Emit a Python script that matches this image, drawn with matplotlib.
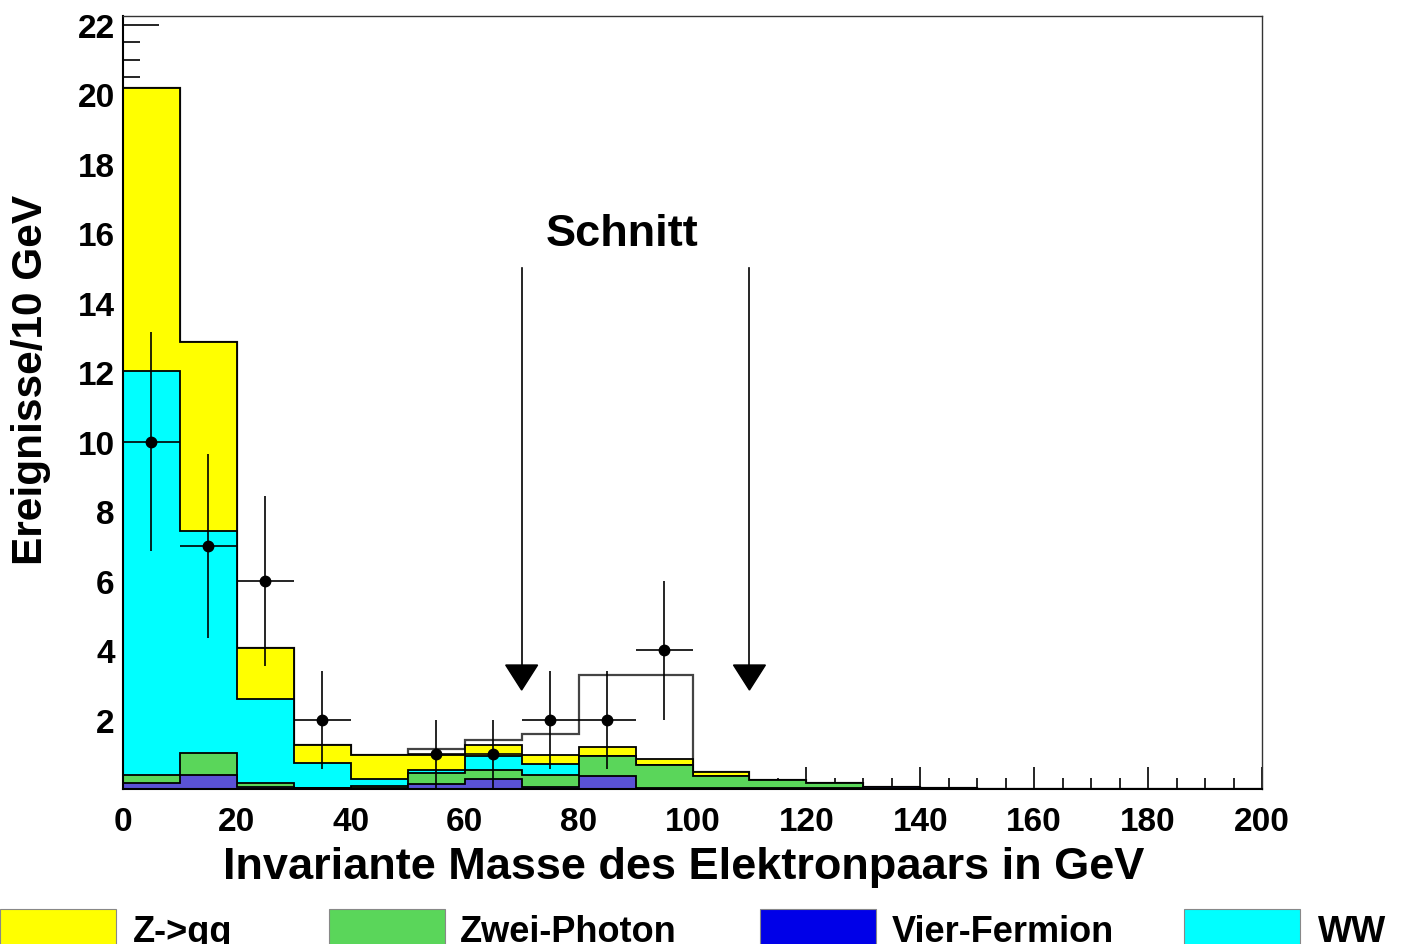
import numpy as np
import matplotlib
matplotlib.use("Agg")
import matplotlib.pyplot as plt
from matplotlib.patches import Rectangle

plt.rcParams['font.family'] = ['Liberation Sans', 'DejaVu Sans']
plt.rcParams['font.weight'] = 'bold'

# ---- data ----
bin_edges = list(range(0, 210, 10))
vier_fermion = [0.18, 0.41, 0.05, 0.02, 0.04, 0.14, 0.28, 0.07, 0.36, 0.04,
                0.03, 0.03, 0.02, 0.05, 0.02, 0.0, 0.0, 0.0, 0.0, 0.0]
zwei_photon = [0.21, 0.64, 0.12, 0.02, 0.05, 0.33, 0.27, 0.33, 0.59, 0.64,
               0.34, 0.23, 0.14, 0.02, 0.0, 0.0, 0.0, 0.0, 0.0, 0.0]
ww = [11.66, 6.38, 2.41, 0.70, 0.19, 0.08, 0.40, 0.31, 0.0, 0.0,
      0.0, 0.0, 0.0, 0.0, 0.0, 0.0, 0.0, 0.0, 0.0, 0.0]
z_qq = [8.15, 5.44, 1.49, 0.54, 0.71, 0.43, 0.31, 0.27, 0.27, 0.18,
        0.11, 0.0, 0.0, 0.0, 0.0, 0.0, 0.0, 0.0, 0.0, 0.0]
signal = [0.0, 0.0, 0.0, 0.0, 0.0, 0.16, 0.15, 0.60, 2.07, 2.43,
          0.0, 0.0, 0.0, 0.0, 0.0, 0.0, 0.0, 0.0, 0.0, 0.0]

data_x = [5, 15, 25, 35, 55, 65, 75, 85, 95]
data_y = [10, 7, 6, 2, 1, 1, 2, 2, 4]
data_err = [3.16, 2.65, 2.45, 1.41, 1.0, 1.0, 1.41, 1.41, 2.0]

cuts = [70, 110]
cut_label = "Schnitt"

legend_labels = ["Z->qq", "Zwei-Photon", "Vier-Fermion", "WW"]
x_ticks = list(range(0, 201, 20))
y_ticks = list(range(2, 23, 2))

# ---- colours ----
c_yellow = '#ffff00'
c_green = '#5ad65a'
c_blue_plot = '#5a52d6'
c_blue_leg = '#0000e8'
c_cyan = '#00ffff'

W, H = 1401, 945
fig = plt.figure(figsize=(W / 100, H / 100), dpi=100)
ax = fig.add_axes([123 / W, 1 - 790 / H, (1262 - 123) / W, (790 - 17) / H])

edges = np.array(bin_edges, dtype=float)
v = np.array(vier_fermion)
z2 = np.array(zwei_photon)
w = np.array(ww)
zq = np.array(z_qq)
s = np.array(signal)

lvl_blue = v
lvl_green = v + z2
lvl_cyan = lvl_green + w
lvl_yellow = lvl_cyan + zq
lvl_total = lvl_yellow + s

# outline (total incl. signal)
ax.stairs(lvl_total, edges, baseline=0, fill=False, color='#444444', lw=1.6, zorder=1.5)

for lvl, col in [(lvl_yellow, c_yellow), (lvl_cyan, c_cyan),
                 (lvl_green, c_green), (lvl_blue, c_blue_plot)]:
    ax.stairs(lvl, edges, baseline=0, fill=True, facecolor=col,
              edgecolor='black', lw=1.3, zorder=2)

# data points
ax.errorbar(data_x, data_y, xerr=5, yerr=data_err, fmt='o', color='black',
            ms=7.5, elinewidth=1.2, capsize=0, zorder=5)

# cut arrows
for c in cuts:
    ax.plot([c, c], [15.0, 3.5], color='black', lw=1.2, zorder=6)
    ax.fill([c - 2.8, c + 2.8, c], [3.57, 3.57, 2.85], color='black', zorder=6)
ax.text(87.6, 16.0, cut_label, fontsize=32.5, fontweight='bold',
        ha='center', va='center', zorder=7)

ax.set_xlim(0, 200)
ax.set_ylim(0, 22.26)
ax.set_xticks(x_ticks)
ax.set_yticks(y_ticks)
ax.set_xticks(np.arange(0, 201, 5), minor=True)
ax.set_yticks(np.arange(0, 22.3, 0.5), minor=True)
ax.set_axisbelow(True)
ax.tick_params(axis='x', which='major', direction='in', length=16, width=1.2,
               labelsize=24, pad=12)
ax.tick_params(axis='x', which='minor', direction='in', length=8, width=1.2)
ax.tick_params(axis='y', which='major', direction='in', length=26, width=1.2,
               labelsize=24, pad=6)
ax.tick_params(axis='y', which='minor', direction='in', length=12, width=1.2)
for lab in ax.get_xticklabels() + ax.get_yticklabels():
    lab.set_fontweight('bold')

for sp in ['left', 'bottom']:
    ax.spines[sp].set_linewidth(1.5)
for sp in ['top', 'right']:
    ax.spines[sp].set_linewidth(1.0)
    ax.spines[sp].set_color('#333333')

fig.text(684 / W, 1 - 868 / H, "Invariante Masse des Elektronpaars in GeV",
         fontsize=32.5, fontweight='bold', ha='center', va='center')
fig.text(31 / W, 1 - 380 / H, "Ereignisse/10 GeV", fontsize=30.5,
         fontweight='bold', ha='center', va='center', rotation=90)

# legend along the bottom
leg_cols = [c_yellow, c_green, c_blue_leg, c_cyan]
box_x = [0, 329, 760, 1184]
text_x = [133, 460, 892, 1318]
for lab, col, bx, tx in zip(legend_labels, leg_cols, box_x, text_x):
    fig.patches.append(Rectangle((bx / W, -0.01), 116 / W, (945 - 910) / H + 0.01,
                                 transform=fig.transFigure, facecolor=col,
                                 edgecolor='#888888', lw=0.8))
    fig.text(tx / W, 3 / H, lab, fontsize=26, fontweight='bold',
             ha='left', va='baseline')

fig.savefig("out.png", dpi=100)
